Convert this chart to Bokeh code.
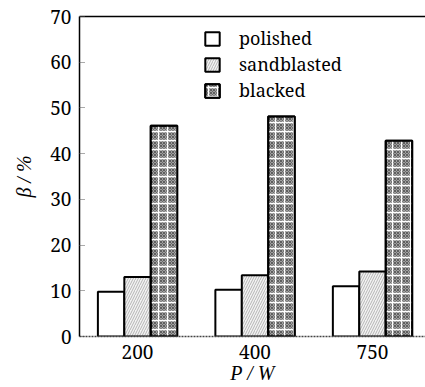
import numpy as np
from bokeh.plotting import figure
from bokeh.models import (ColumnDataSource, Range1d, FixedTicker, LinearAxis,
                          Legend, LegendItem)
from bokeh.transform import dodge
from bokeh.embed import file_html
from bokeh.resources import INLINE

powers = ["200", "400", "750"]
series = ["polished", "sandblasted", "blacked"]
polished = [9.8, 10.2, 11.0]
sandblasted = [13.0, 13.4, 14.2]
blacked = [46.1, 48.1, 42.8]

FONT = "Noto Serif"
FONT_IT = "Liberation Serif"
W, H = 425, 387
XR = (-0.494, 2.451)

p = figure(width=W, height=H, output_backend="svg", toolbar_location=None,
           x_range=Range1d(*XR), y_range=Range1d(0, 70),
           min_border_left=79, min_border_right=0, min_border_top=16,
           min_border_bottom=51)
p.outline_line_color = None
p.xgrid.visible = False
p.ygrid.visible = False
p.background_fill_color = "white"
p.border_fill_color = "white"

x = np.arange(len(powers))
bw = 0.225
src = ColumnDataSource(dict(x=x, pol=polished, sand=sandblasted, blk=blacked))

r1 = p.vbar(x=dodge("x", -bw, range=p.x_range), top="pol", width=bw, source=src,
            fill_color="white", line_color="black", line_width=2)
r2 = p.vbar(x=dodge("x", 0, range=p.x_range), top="sand", width=bw, source=src,
            fill_color="#f3f3f3", hatch_pattern="/", hatch_color="#8a8a8a",
            hatch_scale=5, hatch_weight=0.6, line_color="black", line_width=2)
r3a = p.vbar(x=dodge("x", bw, range=p.x_range), top="blk", width=bw, source=src,
             fill_color="#a0a0a0", hatch_pattern="x", hatch_color="#333333",
             hatch_scale=3, hatch_weight=0.6, line_color="black", line_width=2)
r3b = p.vbar(x=dodge("x", bw, range=p.x_range), top="blk", width=bw, source=src,
             fill_color=None, hatch_pattern="+", hatch_color="white",
             hatch_scale=9, hatch_weight=1.3, line_color="black", line_width=2)

# axes
p.xaxis.ticker = FixedTicker(ticks=list(x))
p.xaxis.major_label_overrides = {int(i): s for i, s in zip(x, powers)}
p.xaxis.major_tick_line_color = None
p.xaxis.minor_tick_line_color = None
p.xaxis.axis_line_color = "#444444"
p.xaxis.axis_line_dash = "2 1"
p.xaxis.axis_line_width = 1.5
p.xaxis.major_label_text_font = FONT
p.xaxis.major_label_text_font_size = "19px"
p.xaxis.major_label_text_color = "black"
p.xaxis.major_label_standoff = 2
p.xaxis.axis_label = "P / W"
p.xaxis.axis_label_text_font = FONT_IT
p.xaxis.axis_label_text_font_size = "20px"
p.xaxis.axis_label_text_font_style = "italic"
p.xaxis.axis_label_text_color = "black"
p.xaxis.axis_label_standoff = 0

p.yaxis.ticker = FixedTicker(ticks=list(range(0, 71, 10)))
p.yaxis.major_tick_in = 5
p.yaxis.major_tick_out = 0
p.yaxis.major_tick_line_dash = "1 1"
p.yaxis.major_tick_line_color = "#555555"
p.yaxis.minor_tick_line_color = None
p.yaxis.axis_line_color = "black"
p.yaxis.axis_line_width = 1.5
p.yaxis.major_label_text_font = FONT
p.yaxis.major_label_text_font_size = "19px"
p.yaxis.major_label_text_color = "black"
p.yaxis.major_label_standoff = 8
p.yaxis.axis_label = "β / %"
p.yaxis.axis_label_text_font = FONT_IT
p.yaxis.axis_label_text_font_size = "20px"
p.yaxis.axis_label_text_font_style = "italic"
p.yaxis.axis_label_text_color = "black"
p.yaxis.axis_label_standoff = 12

top_axis = LinearAxis(ticker=FixedTicker(ticks=[]), major_tick_line_color=None,
                      minor_tick_line_color=None, axis_line_color="black",
                      axis_line_width=1.5)
p.add_layout(top_axis, "above")

legend = Legend(items=[LegendItem(label=series[0], renderers=[r1]),
                       LegendItem(label=series[1], renderers=[r2]),
                       LegendItem(label=series[2], renderers=[r3a, r3b])],
                location=(124, 234), orientation="vertical",
                glyph_width=18, glyph_height=17, label_standoff=18, spacing=2,
                label_height=18, padding=0, margin=0,
                border_line_color=None, background_fill_alpha=0,
                label_text_font=FONT, label_text_font_size="18px",
                label_text_color="black")
p.add_layout(legend, "center")

open("out.html", "w").write(file_html(p, INLINE))
